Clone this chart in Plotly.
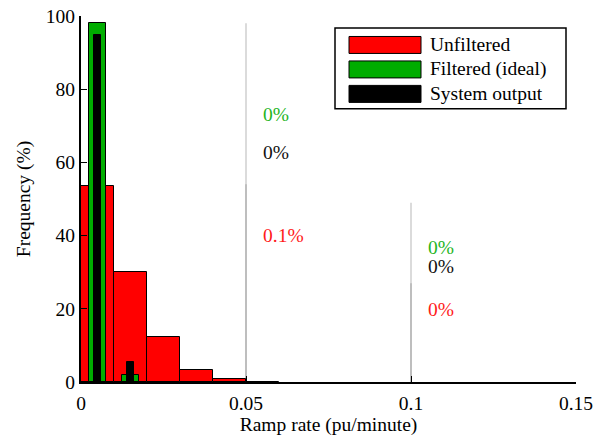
import plotly.graph_objects as go

# Histogram of ramp rates (bin edges in pu/minute, frequency in %)
unfilt_centers = [0.005, 0.015, 0.025, 0.035, 0.045, 0.055]
unfilt_freq = [53.6, 30.0, 12.4, 3.3, 0.9, 0.1]

filt_centers = [0.005, 0.015]
filt_freq = [98.0, 2.0]

sys_centers = [0.005, 0.015]
sys_freq = [94.8, 5.4]

# Ramp-rate limits and share of samples exceeding each
thresholds = [0.05, 0.1]
exceed_unfilt = ["0.1%", "0%"]
exceed_filt = ["0%", "0%"]
exceed_sys = ["0%", "0%"]

series_names = ["Unfiltered", "Filtered (ideal)", "System output"]

RED = "#ff0000"
GREEN = "#00ad00"
BLACK = "#000000"
FONT = "Liberation Serif"
FS = 19.5

fig = go.Figure()
fig.add_trace(go.Bar(x=unfilt_centers, y=unfilt_freq, width=0.01, name=series_names[0],
                     marker=dict(color=RED, line=dict(color="black", width=1))))
fig.add_trace(go.Bar(x=filt_centers, y=filt_freq, width=0.005, name=series_names[1],
                     marker=dict(color=GREEN, line=dict(color="black", width=1))))
fig.add_trace(go.Bar(x=sys_centers, y=sys_freq, width=0.0023, name=series_names[2],
                     marker=dict(color=BLACK, line=dict(color="black", width=1))))

shapes = []
annotations = []

# Threshold markers
line_tops = [98, 49]
line_dark_tops = [54, 27]
for t, top, dtop in zip(thresholds, line_tops, line_dark_tops):
    shapes.append(dict(type="line", xref="x", yref="y", x0=t, x1=t, y0=0, y1=top,
                       line=dict(color="#cfcfcf", width=1.5), layer="below"))
    shapes.append(dict(type="line", xref="x", yref="y", x0=t, x1=t, y0=0, y1=dtop,
                       line=dict(color="#b4b4b4", width=1.5), layer="below"))

label_y = [[73.2, 62.8, 40.0], [36.7, 31.5, 19.8]]
for i, t in enumerate(thresholds):
    for txt, col, yy in zip([exceed_filt[i], exceed_sys[i], exceed_unfilt[i]],
                            ["#1fb51f", "#111111", "#ff1a1a"], label_y[i]):
        annotations.append(dict(x=t + 0.0046, y=yy, xref="x", yref="y", text=txt,
                                showarrow=False, xanchor="left", yanchor="middle",
                                font=dict(family=FONT, size=FS, color=col)))

# Legend box drawn in paper coordinates
px0, px1 = 81, 576
py0, py1 = 382.5, 16


def xp(px):
    return (px - px0) / (px1 - px0)


def yp(py):
    return (py0 - py) / (py0 - py1)


shapes.append(dict(type="rect", xref="paper", yref="paper", x0=xp(335), x1=xp(566),
                   y0=yp(109), y1=yp(28), line=dict(color="black", width=1.5),
                   fillcolor="white"))
for k, (name, col) in enumerate(zip(series_names, [RED, GREEN, BLACK])):
    cy = 45 + k * 24.5
    shapes.append(dict(type="rect", xref="paper", yref="paper", x0=xp(349), x1=xp(421),
                       y0=yp(cy + 8.5), y1=yp(cy - 8.5), line=dict(color="black", width=1),
                       fillcolor=col))
    annotations.append(dict(x=xp(428), y=yp(cy), xref="paper", yref="paper", text=name,
                            showarrow=False, xanchor="left", yanchor="middle",
                            font=dict(family=FONT, size=FS, color="black")))

fig.update_layout(
    width=595, height=443,
    margin=dict(l=81, r=19, t=16, b=60.5),
    plot_bgcolor="white", paper_bgcolor="white",
    barmode="overlay", bargap=0, showlegend=False,
    font=dict(family=FONT, size=FS, color="black"),
    shapes=shapes, annotations=annotations,
    xaxis=dict(range=[0, 0.15], tickvals=[0, 0.05, 0.1, 0.15], ticktext=["0", "0.05", "0.1", "0.15"],
               showline=True, linecolor="black", linewidth=2, ticks="inside", ticklen=6,
               tickcolor="black", showgrid=False, zeroline=False, automargin=False,
               ticklabelstandoff=3,
               title=dict(text="Ramp rate (pu/minute)", standoff=2,
                          font=dict(family=FONT, size=FS))),
    yaxis=dict(range=[0, 100], tickvals=[0, 20, 40, 60, 80, 100],
               showline=True, linecolor="black", linewidth=2, ticks="inside", ticklen=6,
               tickcolor="black", showgrid=False, zeroline=False, automargin=False,
               title=dict(text="Frequency (%)", standoff=10,
                          font=dict(family=FONT, size=FS))),
)

fig.write_html("out.html")
